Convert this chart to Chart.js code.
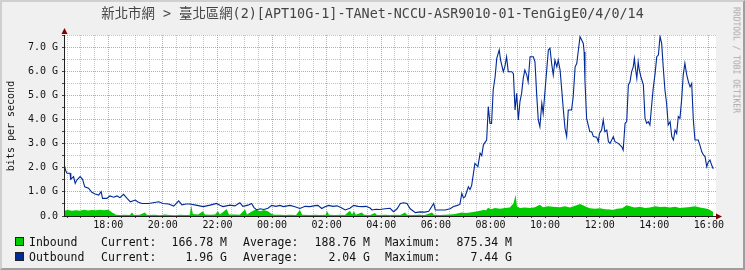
<!DOCTYPE html>
<html>
<head>
<meta charset="utf-8">
<script src="https://cdn.jsdelivr.net/npm/chart.js@4/dist/chart.umd.min.js"></script>
<style>
html,body{margin:0;padding:0;}
body{width:745px;height:270px;overflow:hidden;background:#F0F0F0;position:relative;font-family:"DejaVu Sans Mono",monospace;color:#000;}
#frame{position:absolute;left:0;top:0;width:745px;height:270px;box-sizing:border-box;border-top:2px solid #CFCFCF;border-left:2px solid #CFCFCF;border-right:2px solid #9E9E9E;border-bottom:2px solid #9E9E9E;pointer-events:none;}
canvas{position:absolute;left:0;top:0;}
.t{position:absolute;white-space:pre;}
#title{left:0;top:6px;width:745px;text-align:center;font-size:13.4px;line-height:16px;color:#444;font-family:"DejaVu Sans Mono","Noto Sans CJK TC",monospace;}
#ytitle{left:11px;top:126px;font-size:10px;line-height:12px;color:#111;transform:translate(-50%,-50%) rotate(-90deg);}
#wm{left:736px;top:60px;font-size:8px;line-height:9px;color:#A8A8A8;transform:translate(-50%,-50%) rotate(90deg);}
.lg{font-size:11.5px;line-height:14px;color:#111;}
.sw{position:absolute;width:9px;height:9px;box-sizing:border-box;border:1px solid #222;}
.r{text-align:right;}
</style>
</head>
<body>
<canvas id="c" width="745" height="270"></canvas>
<div id="title" class="t"></div>
<div id="ytitle" class="t">bits per second</div>
<div id="wm" class="t">RRDTOOL / TOBI OETIKER</div>
<div id="legend"></div>
<div id="frame"></div>
<script>
// ---------- DATA ----------
const chartTitle = "新北市網 > 臺北區網(2)[APT10G-1]-TANet-NCCU-ASR9010-01-TenGigE0/4/0/14";

// Outbound (hours since midnight of day 1, Gbit/s)
const outTime = [
 16.40,16.45,16.49,16.60,16.63,16.73,16.79,16.85,16.97,17.06,
 17.14,17.28,17.40,17.52,17.65,17.74,17.79,17.95,18.06,18.20,
 18.32,18.43,18.56,18.69,18.81,18.99,19.09,19.23,19.48,19.64,
 19.85,20.00,20.21,20.40,20.58,20.70,20.85,20.99,21.21,21.48,
 21.73,21.97,22.09,22.20,22.46,22.64,22.82,22.93,23.12,23.25,
 23.34,23.44,23.56,23.70,23.85,23.99,24.14,24.29,24.41,24.66,
 24.84,25.02,25.21,25.39,25.57,25.68,25.82,25.94,26.07,26.23,
 26.38,26.52,26.68,26.85,26.99,27.15,27.33,27.44,27.59,27.66,
 27.81,27.95,28.14,28.32,28.45,28.58,28.70,28.83,28.94,29.06,
 29.25,29.42,29.60,29.74,29.92,29.98,30.15,30.34,30.52,30.65,
 30.76,30.88,30.95,31.01,31.07,31.19,31.25,31.31,31.43,31.54,
 31.62,31.68,31.74,31.80,31.86,31.92,31.98,32.04,32.10,32.17,
 32.23,32.32,32.37,32.47,32.53,32.59,32.65,32.78,32.84,32.90,
 32.96,33.02,33.08,33.14,33.20,33.26,33.33,33.38,33.45,33.57,
 33.63,33.69,33.75,33.81,33.88,33.93,34.00,34.12,34.18,34.24,
 34.30,34.36,34.43,34.48,34.55,34.61,34.67,34.73,34.79,34.85,
 34.97,35.03,35.10,35.16,35.22,35.28,35.34,35.40,35.43,35.46,
 35.52,35.58,35.64,35.71,35.77,35.89,35.95,35.99,36.07,36.13,
 36.19,36.26,36.32,36.38,36.50,36.56,36.68,36.81,36.86,36.93,
 36.99,37.05,37.11,37.17,37.23,37.27,37.31,37.36,37.41,37.45,
 37.51,37.60,37.66,37.72,37.78,37.84,37.91,37.96,38.03,38.09,
 38.15,38.21,38.27,38.33,38.39,38.45,38.51,38.58,38.64,38.70,
 38.76,38.82,38.88,38.94,39.00,39.06,39.12,39.19,39.25,39.31,
 39.37,39.43,39.49,39.61,39.67,39.74,39.80,39.86,39.92,39.98,
 40.04,40.10,40.16
];
const outBits = [
 2.07,1.85,1.77,1.77,1.52,1.63,1.35,1.49,1.63,1.52,
 1.21,1.15,0.98,0.91,0.87,1.01,0.73,0.73,0.83,0.78,
 0.83,0.76,0.90,0.73,0.59,0.66,0.58,0.52,0.52,0.55,
 0.59,0.52,0.50,0.41,0.63,0.46,0.50,0.50,0.45,0.39,
 0.45,0.52,0.45,0.39,0.45,0.42,0.55,0.40,0.45,0.52,
 0.35,0.25,0.30,0.27,0.32,0.44,0.40,0.44,0.39,0.44,
 0.38,0.31,0.40,0.39,0.43,0.44,0.31,0.38,0.44,0.40,
 0.42,0.35,0.25,0.32,0.44,0.40,0.39,0.40,0.33,0.25,
 0.28,0.27,0.30,0.32,0.18,0.30,0.52,0.55,0.52,0.30,
 0.14,0.17,0.16,0.20,0.52,0.25,0.25,0.25,0.30,0.39,
 0.43,0.48,0.94,0.75,0.80,1.21,1.10,1.26,2.18,2.05,
 2.60,2.50,2.94,3.05,3.15,4.53,3.84,3.84,5.22,5.77,
 6.53,6.88,6.46,5.98,6.20,6.60,5.98,5.98,5.90,4.39,
 5.08,3.98,4.74,5.08,5.70,6.05,5.84,5.56,6.60,6.60,
 6.39,5.08,3.98,3.70,4.67,4.25,5.22,6.88,6.95,6.32,
 5.84,6.46,6.18,6.46,6.05,5.22,4.39,3.63,3.29,4.39,
 4.39,4.94,6.18,6.32,6.88,7.43,7.29,7.15,6.80,5.63,
 4.05,3.77,3.49,3.49,3.29,3.26,3.08,3.42,3.56,3.98,
 3.49,3.56,3.08,3.01,3.29,3.08,3.01,2.87,2.73,3.84,
 3.91,5.43,5.56,5.98,6.18,6.53,6.12,5.70,6.39,6.05,
 5.77,5.43,4.05,3.84,3.91,3.77,4.67,5.29,5.91,6.60,
 6.67,7.44,7.15,6.12,5.22,4.67,3.77,3.91,3.29,3.15,
 3.56,3.42,4.12,4.05,4.80,5.84,6.33,5.84,5.56,5.35,
 5.49,3.98,3.15,3.15,2.94,2.66,2.53,2.46,2.04,2.25,
 2.32,2.11,1.96
];

// Inbound (hours, Gbit/s)
const inTime = [
 16.38,16.52,16.67,16.82,16.96,17.11,17.26,17.40,17.55,17.70,
 17.84,17.99,18.06,18.14,18.21,18.28,18.43,18.61,18.79,18.87,
 18.94,19.16,19.34,19.42,19.71,19.89,20.08,20.26,20.44,20.63,
 20.85,20.99,21.04,21.10,21.29,21.47,21.54,21.73,21.91,22.02,
 22.09,22.34,22.42,22.64,22.82,23.01,23.08,23.30,23.41,23.56,
 23.70,23.85,23.96,24.07,24.29,24.47,24.66,24.88,25.02,25.10,
 25.39,25.57,25.75,25.97,26.01,26.08,26.30,26.49,26.67,26.85,
 26.93,27.00,27.07,27.29,27.37,27.59,27.77,27.84,28.14,28.32,
 28.50,28.69,28.87,28.94,29.12,29.42,29.60,29.86,29.93,30.15,
 30.33,30.52,30.70,30.95,31.10,31.25,31.43,31.62,31.74,31.84,
 31.91,32.02,32.17,32.35,32.53,32.71,32.84,32.92,32.97,33.08,
 33.26,33.45,33.63,33.81,33.92,34.11,34.29,34.55,34.73,34.91,
 35.10,35.28,35.39,35.50,35.64,35.83,36.01,36.19,36.38,36.49,
 36.63,36.82,36.99,37.11,37.29,37.48,37.66,37.84,38.03,38.21,
 38.39,38.58,38.76,38.94,39.12,39.31,39.49,39.67,39.78,39.93,
 40.04,40.16
];
const inBits = [
 0.22,0.25,0.22,0.24,0.22,0.26,0.23,0.25,0.24,0.26,
 0.24,0.26,0.22,0.14,0.10,0.05,0.04,0.05,0.04,0.15,
 0.04,0.05,0.15,0.04,0.05,0.03,0.06,0.04,0.03,0.05,
 0.04,0.05,0.45,0.08,0.06,0.20,0.06,0.05,0.06,0.20,
 0.06,0.29,0.06,0.06,0.05,0.28,0.06,0.22,0.27,0.20,
 0.25,0.20,0.10,0.05,0.05,0.04,0.05,0.04,0.26,0.05,
 0.04,0.05,0.04,0.05,0.22,0.05,0.04,0.05,0.04,0.22,
 0.06,0.20,0.05,0.15,0.05,0.04,0.12,0.04,0.05,0.04,
 0.05,0.04,0.15,0.05,0.04,0.05,0.04,0.15,0.05,0.04,
 0.05,0.06,0.08,0.14,0.12,0.14,0.18,0.22,0.25,0.24,
 0.34,0.28,0.33,0.30,0.33,0.35,0.52,0.875,0.40,0.33,
 0.35,0.33,0.36,0.47,0.36,0.40,0.38,0.36,0.40,0.35,
 0.42,0.50,0.45,0.38,0.32,0.30,0.32,0.28,0.27,0.25,
 0.30,0.32,0.45,0.40,0.35,0.38,0.33,0.35,0.40,0.37,
 0.38,0.35,0.38,0.33,0.35,0.37,0.40,0.35,0.33,0.30,
 0.25,0.17
];

const xTickHours  = [18,20,22,24,26,28,30,32,34,36,38,40];
const xTickLabels = ['18:00','20:00','22:00','00:00','02:00','04:00','06:00','08:00','10:00','12:00','14:00','16:00'];
const yTickValues = [0,1,2,3,4,5,6,7];
const yTickLabels = ['0.0','1.0 G','2.0 G','3.0 G','4.0 G','5.0 G','6.0 G','7.0 G'];

const seriesNames = ['Inbound','Outbound'];
const seriesColors = ['#00CC00','#002A97'];
const currentVals = ['166.78 M','1.96 G'];
const averageVals = ['188.76 M','2.04 G'];
const maximumVals = ['875.34 M','7.44 G'];

// ---------- TEXT ----------
document.getElementById('title').textContent = chartTitle;
const lg = document.getElementById('legend');
function addText(txt, left, top, right){
  const d = document.createElement('div');
  d.className = 't lg' + (right ? ' r' : '');
  d.textContent = txt;
  d.style.top = top + 'px';
  if (right) { d.style.right = (745 - left) + 'px'; } else { d.style.left = left + 'px'; }
  lg.appendChild(d);
}
seriesNames.forEach((name, i) => {
  const top = 235 + i * 14.5;
  const sw = document.createElement('div');
  sw.className = 'sw';
  sw.style.left = '15px';
  sw.style.top = (top + 2) + 'px';
  sw.style.background = seriesColors[i];
  lg.appendChild(sw);
  addText(name, 29, top);
  addText('Current:', 101, top);
  addText(currentVals[i], 227, top, true);
  addText('Average:', 243, top);
  addText(averageVals[i], 370, top, true);
  addText('Maximum:', 385, top);
  addText(maximumVals[i], 512, top, true);
});

// ---------- CHART ----------
const minorGrid = 'rgba(150,150,150,0.55)';
const majorGrid = 'rgba(225,60,60,0.55)';
const axisFont = {family:'"DejaVu Sans Mono", monospace', size:10};

const bgPlugin = {
  id:'bg',
  beforeDraw(c){
    const {ctx, chartArea:a} = c;
    ctx.save();
    ctx.fillStyle = '#FFFFFF';
    ctx.fillRect(a.left, a.top, a.right - a.left, a.bottom - a.top);
    ctx.restore();
  }
};
const arrowPlugin = {
  id:'arrows',
  afterDraw(c){
    const {ctx, chartArea:a} = c;
    const x0 = Math.round(a.left) + 0.5, y0 = Math.round(a.bottom) + 0.5;
    ctx.save();
    ctx.fillStyle = '#7F0000';
    ctx.beginPath();
    ctx.moveTo(x0, a.top - 7);
    ctx.lineTo(x0 - 3, a.top - 1);
    ctx.lineTo(x0 + 3, a.top - 1);
    ctx.closePath(); ctx.fill();
    ctx.beginPath();
    ctx.moveTo(a.right + 6, y0);
    ctx.lineTo(a.right, y0 - 3);
    ctx.lineTo(a.right, y0 + 3);
    ctx.closePath(); ctx.fill();
    ctx.restore();
  }
};

new Chart(document.getElementById('c'), {
  type:'line',
  data:{
    datasets:[
      {label:'Outbound', data: outTime.map((t,i)=>({x:t, y:outBits[i]})),
       borderColor:'#002A97', borderWidth:1.1, pointRadius:0, fill:false, tension:0, order:0},
      {label:'Inbound', data: inTime.map((t,i)=>({x:t, y:inBits[i]})),
       borderColor:'#00CC00', borderWidth:0, backgroundColor:'#00CC00', fill:'origin', pointRadius:0, tension:0, order:1}
    ]
  },
  options:{
    responsive:false, animation:false, devicePixelRatio:1,
    layout:{padding:{left:0, top:35, right:29, bottom:0}},
    plugins:{legend:{display:false}, tooltip:{enabled:false}, title:{display:false}},
    scales:{
      x:{
        type:'linear', min:16.38, max:40.26,
        afterFit(s){ s.height = 54; },
        afterBuildTicks(s){
          const t = [];
          for (let v = 16.5; v <= 40.0001; v += 0.5) t.push({value:v});
          s.ticks = t;
        },
        ticks:{autoSkip:false, maxRotation:0, minRotation:0, padding:1, font:axisFont, color:'#111',
          callback(v){ const i = xTickHours.indexOf(v); return i >= 0 ? xTickLabels[i] : ''; }},
        grid:{color:(c)=> (c.tick && c.tick.value % 2 === 0) ? majorGrid : minorGrid,
          lineWidth:1, drawTicks:true, tickLength:2, tickColor:'#444'},
        border:{display:true, color:'#1F1F1F', width:1, dash:[1,1], z:1}
      },
      y:{
        type:'linear', min:0, max:7.5,
        afterFit(s){ s.width = 64; },
        afterBuildTicks(s){
          const t = [];
          for (let v = 0; v <= 7.5001; v += 0.5) t.push({value:v});
          s.ticks = t;
        },
        ticks:{autoSkip:false, padding:4, font:axisFont, color:'#111',
          callback(v){ const i = yTickValues.indexOf(v); return i >= 0 ? yTickLabels[i] : ''; }},
        grid:{color:(c)=> (c.tick && Number.isInteger(c.tick.value)) ? majorGrid : minorGrid,
          lineWidth:1, drawTicks:true, tickLength:2, tickColor:'#444'},
        border:{display:true, color:'#1F1F1F', width:1, dash:[1,1], z:1}
      }
    }
  },
  plugins:[bgPlugin, arrowPlugin]
});
</script>
</body>
</html>
